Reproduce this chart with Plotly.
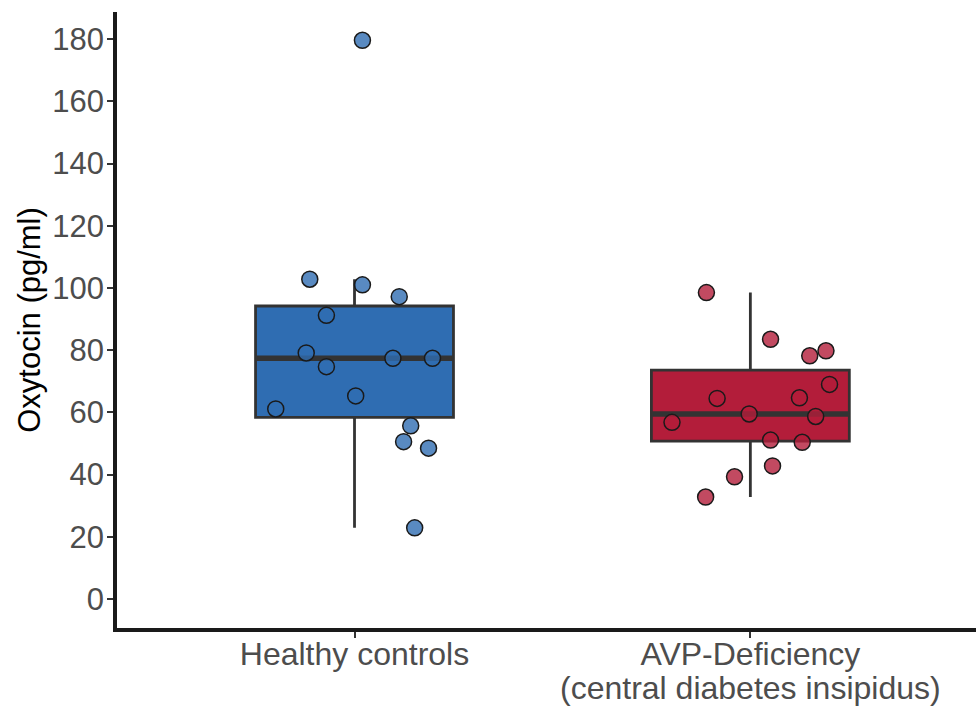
import numpy as np
import plotly.graph_objects as go

# Group labels on the x axis (second line, if any, after "\n")
groups = ["Healthy controls", "AVP-Deficiency\n(central diabetes insipidus)"]

# Oxytocin concentrations (pg/ml) per participant
healthy_values = [179.6, 102.8, 101.0, 97.2, 91.2, 79.1, 77.4, 77.4, 74.7,
                  65.3, 61.1, 55.7, 50.6, 48.5, 22.9]
avp_values = [98.5, 83.5, 78.2, 79.8, 69.0, 64.5, 64.7, 59.5, 58.7, 56.8,
              51.1, 50.4, 42.8, 39.3, 32.8]

# Horizontal jitter applied to each point (in category units)
healthy_jitter = [0.02, -0.113, 0.02, 0.113, -0.071, -0.122, 0.097, 0.197,
                  -0.071, 0.003, -0.199, 0.142, 0.124, 0.187, 0.152]
avp_jitter = [-0.111, 0.051, 0.150, 0.191, 0.200, -0.084, 0.124, -0.003,
              0.165, -0.198, 0.051, 0.131, 0.056, -0.040, -0.113]

box_colors = ["#2f6db2", "#b31d3a"]
point_colors = ["rgba(47,109,178,0.8)", "rgba(179,29,58,0.8)"]
edge = "#333333"
BOX_W = 0.5
XLAB_SIZE = 32
XLAB_LINE = 32  # distance between label lines, px

def box_stats(vals):
    v = np.sort(np.asarray(vals, dtype=float))
    q1, med, q3 = np.percentile(v, [25, 50, 75])
    iqr = q3 - q1
    lo = v[v >= q1 - 1.5 * iqr].min()
    hi = v[v <= q3 + 1.5 * iqr].max()
    return q1, med, q3, lo, hi

fig = go.Figure()

data_sets = [healthy_values, avp_values]
jitters = [healthy_jitter, avp_jitter]

for i, vals in enumerate(data_sets):
    pos = i + 1
    q1, med, q3, lo, hi = box_stats(vals)
    fig.add_trace(go.Box(
        x=[pos], q1=[q1], median=[med], q3=[q3],
        lowerfence=[lo], upperfence=[hi],
        width=BOX_W, whiskerwidth=0, fillcolor=box_colors[i],
        line=dict(color=edge, width=2.8),
        boxpoints=False, showlegend=False, hoverinfo="skip",
    ))
    # thicker median bar
    fig.add_trace(go.Scatter(
        x=[pos - BOX_W / 2, pos + BOX_W / 2], y=[med, med],
        mode="lines", line=dict(color=edge, width=5.5),
        showlegend=False, hoverinfo="skip",
    ))

for i, vals in enumerate(data_sets):
    pos = i + 1
    fig.add_trace(go.Scatter(
        x=[pos + j for j in jitters[i]], y=vals,
        mode="markers",
        marker=dict(size=16, color=point_colors[i],
                    line=dict(color="#1a1a1a", width=1.5)),
        showlegend=False,
    ))

font = "Liberation Sans, Arial, Helvetica, sans-serif"

# first line of each group label as tick text, further lines as annotations
first_lines = [g.split("\n")[0] for g in groups]
for i, g in enumerate(groups):
    for k, line in enumerate(g.split("\n")[1:], start=1):
        fig.add_annotation(
            x=i + 1, xref="x", y=0, yref="paper",
            text=line, showarrow=False, xanchor="center", yanchor="top",
            yshift=-8 - k * XLAB_LINE,
            font=dict(family=font, size=XLAB_SIZE, color="#4d4d4d"),
        )

fig.update_layout(
    width=976, height=707,
    margin=dict(l=117, r=0, t=12, b=79),
    plot_bgcolor="white", paper_bgcolor="white",
    font=dict(family=font, size=30, color="#4d4d4d"),
    xaxis=dict(
        range=[0.4, 2.57], tickmode="array", tickvals=[1, 2],
        ticktext=first_lines, showgrid=False, zeroline=False,
        showline=True, linewidth=3.5, linecolor="#1a1a1a",
        ticks="outside", ticklen=6, tickwidth=1.5, tickcolor=edge,
        tickfont=dict(size=XLAB_SIZE, color="#4d4d4d"),
        ticklabelstandoff=-11, automargin=False,
    ),
    yaxis=dict(
        range=[-9.3, 188.7], tickmode="array",
        tickvals=list(range(0, 181, 20)),
        showgrid=False, zeroline=False,
        showline=True, linewidth=3.5, linecolor="#1a1a1a",
        ticks="outside", ticklen=6, tickwidth=1.5, tickcolor=edge,
        tickfont=dict(size=31, color="#4d4d4d"),
        ticklabelstandoff=-3, automargin=False,
        title=dict(text="Oxytocin (pg/ml)", standoff=3,
                   font=dict(size=31, color="black")),
    ),
)

fig.write_html("out.html")
